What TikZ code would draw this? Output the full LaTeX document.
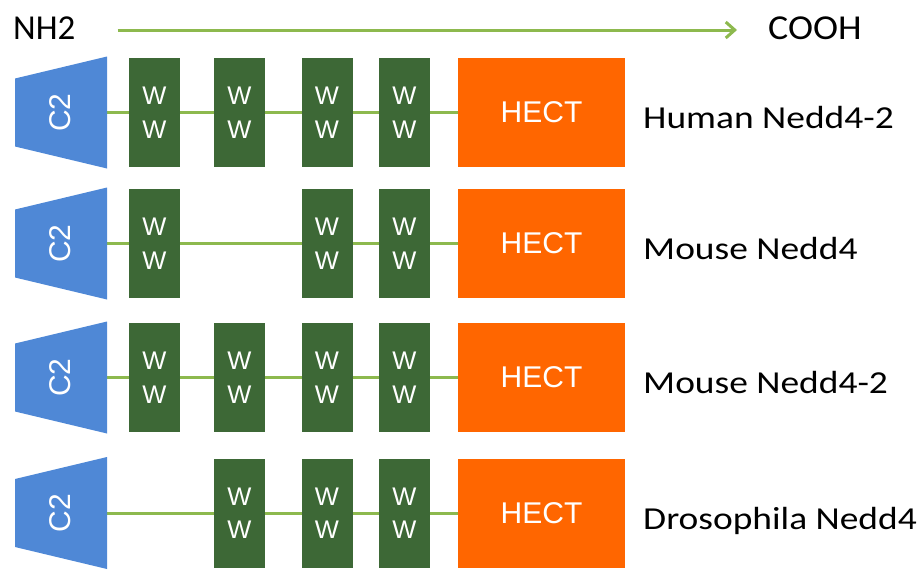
\documentclass[tikz,border=0pt]{standalone}
\usepackage{fontspec}
\setmainfont{Carlito}
\newfontfamily\boxfont{Liberation Sans}
\usetikzlibrary{backgrounds,arrows.meta}

\definecolor{c2blue}{RGB}{79,136,214}
\definecolor{wwgreen}{RGB}{61,104,54}
\definecolor{linkgreen}{RGB}{141,185,78}
\definecolor{hectorange}{RGB}{255,102,0}

\tikzset{
  wwbox/.style={fill=wwgreen, text=white, minimum width=51pt, minimum height=109pt,
    inner sep=0pt, align=center, font=\boxfont\fontsize{25.5}{33.5}\selectfont},
  hectbox/.style={fill=hectorange, text=white, minimum width=167pt, minimum height=109pt,
    inner sep=0pt, font=\boxfont\fontsize{30}{36}\selectfont},
  c2text/.style={text=white, rotate=90, inner sep=0pt, font=\boxfont\fontsize{30}{36}\selectfont},
  c2shape/.style={fill=c2blue},
  link/.style={linkgreen, line width=3pt},
  species/.style={anchor=base west, inner sep=0pt, xscale=1.17, font=\fontsize{32}{38}\selectfont},
  terminus/.style={anchor=base west, inner sep=0pt, font=\fontsize{35}{40}\selectfont},
}

\begin{document}
\begin{tikzpicture}[x=1pt,y=-1pt]

    % Frame
    \useasboundingbox (0,0) rectangle (924,571);

    % N- to C-terminus
    \node[terminus] (nh2) at (13,39.5) {NH2};
    \node[terminus,xscale=1.08] (cooh) at (768,39.5) {COOH};
    \draw[link,-{Straight Barb[length=9pt,width=16pt]}] ([xshift=42pt]nh2.east |- 0,30) -- ([xshift=-31pt]cooh.west |- 0,30);

    % Human Nedd4-2
    \fill[c2shape] (15,78.5) -- (107,56.5) -- (107,168.5) -- (15,146.5) -- cycle;
    \node[c2text] (c2a) at (60,112.5) {C2};
    \node[wwbox] (wwa1) at (154.5,112.5) {W\\W};
    \node[wwbox] (wwa2) at (239.5,112.5) {W\\W};
    \node[wwbox] (wwa3) at (327,112.5) {W\\W};
    \node[wwbox] (wwa4) at (404.5,112.5) {W\\W};
    \node[hectbox] (hecta) at (541.5,112.5) {HECT};
    \node[species] (namea) at (643,128.5) {Human Nedd4-2};

    % Mouse Nedd4
    \fill[c2shape] (15,209.5) -- (107,187.5) -- (107,299.5) -- (15,277.5) -- cycle;
    \node[c2text] (c2b) at (60,243.5) {C2};
    \node[wwbox] (wwb1) at (154.5,243.5) {W\\W};
    \node[wwbox] (wwb3) at (327,243.5) {W\\W};
    \node[wwbox] (wwb4) at (404.5,243.5) {W\\W};
    \node[hectbox] (hectb) at (541.5,243.5) {HECT};
    \node[species] (nameb) at (643,259.5) {Mouse Nedd4};

    % Mouse Nedd4-2
    \fill[c2shape] (15,343.5) -- (107,321.5) -- (107,433.5) -- (15,411.5) -- cycle;
    \node[c2text] (c2c) at (60,377.5) {C2};
    \node[wwbox] (wwc1) at (154.5,377.5) {W\\W};
    \node[wwbox] (wwc2) at (239.5,377.5) {W\\W};
    \node[wwbox] (wwc3) at (327,377.5) {W\\W};
    \node[wwbox] (wwc4) at (404.5,377.5) {W\\W};
    \node[hectbox] (hectc) at (541.5,377.5) {HECT};
    \node[species] (namec) at (643,393.5) {Mouse Nedd4-2};

    % Drosophila Nedd4
    \fill[c2shape] (15,479) -- (107,457) -- (107,569) -- (15,547) -- cycle;
    \node[c2text] (c2d) at (60,513) {C2};
    \node[wwbox] (wwd2) at (239.5,513) {W\\W};
    \node[wwbox] (wwd3) at (327,513) {W\\W};
    \node[wwbox] (wwd4) at (404.5,513) {W\\W};
    \node[hectbox] (hectd) at (541.5,513) {HECT};
    \node[species] (named) at (643,529.5) {Drosophila Nedd4};

    % Linkers behind the domains
    \begin{scope}[on background layer]
        \draw[link] (c2a) -- (hecta);
        \draw[link] (c2b) -- (hectb);
        \draw[link] (c2c) -- (hectc);
        \draw[link] (c2d) -- (hectd);
    \end{scope}

\end{tikzpicture}
\end{document}
